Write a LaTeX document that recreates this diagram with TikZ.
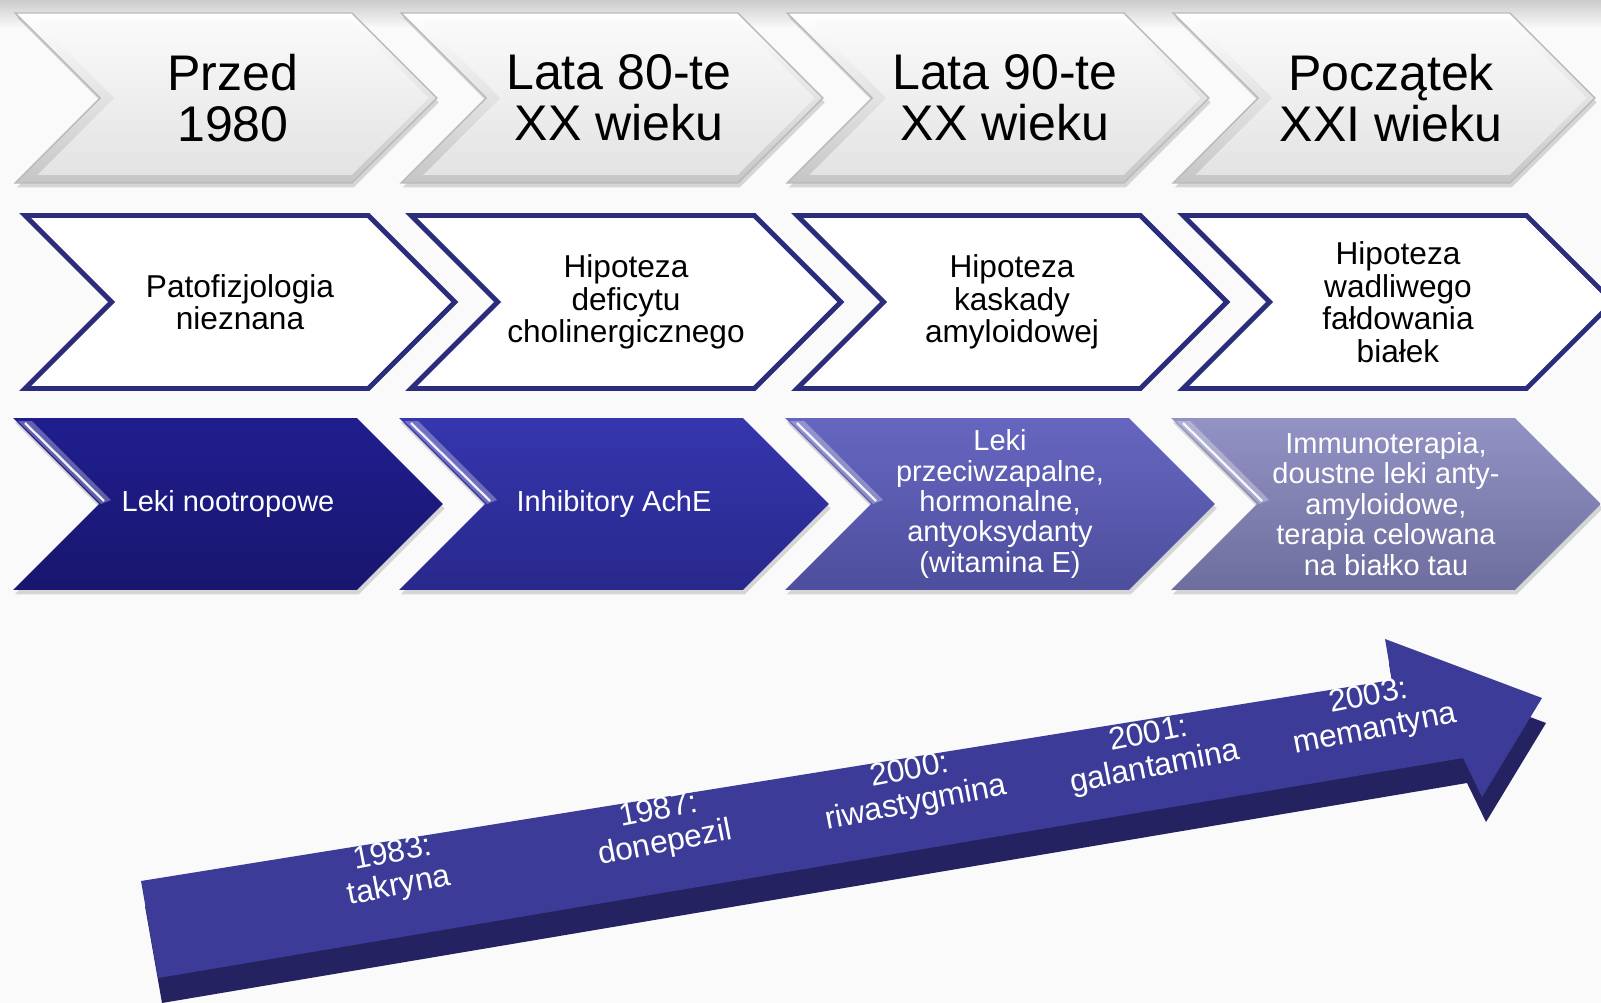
\documentclass[tikz,border=0pt]{standalone}
\usepackage{fontspec}
\setmainfont{Liberation Sans}
\usetikzlibrary{shapes.symbols,shadows}

\definecolor{navy}{RGB}{44,44,125}
\definecolor{lekiAt}{RGB}{32,30,142}
\definecolor{lekiAb}{RGB}{24,22,110}
\definecolor{lekiBt}{RGB}{54,54,174}
\definecolor{lekiBb}{RGB}{40,40,140}
\definecolor{lekiCt}{RGB}{102,102,192}
\definecolor{lekiCb}{RGB}{78,78,158}
\definecolor{lekiDt}{RGB}{146,146,196}
\definecolor{lekiDb}{RGB}{110,110,158}
\definecolor{osTop}{RGB}{60,60,152}
\definecolor{osBok}{RGB}{36,34,96}

\begin{document}
\begin{tikzpicture}[x=0.02cm, y=-0.02cm,
		chev/.style={signal, signal from=west, signal to=east, signal pointer angle=90, inner sep=0pt, outer sep=0pt, align=center},
		okres/.style={chev, minimum width=8.44cm, minimum height=3.4cm, draw=gray!55, thick, top color=white, bottom color=gray!45, drop shadow={opacity=0.3, shadow xshift=1pt, shadow yshift=-2.5pt}},
		okresf/.style={chev, minimum width=7.83cm, minimum height=3.08cm, top color=gray!4, bottom color=gray!22, font=\fontsize{28.5}{29}\selectfont},
		hip/.style={chev, minimum width=8.6cm, minimum height=3.46cm, draw=navy, line width=2.8pt, fill=white, font=\fontsize{18}{18.5}\selectfont},
		lek/.style={chev, minimum width=8.6cm, minimum height=3.44cm, text=white, drop shadow={opacity=0.3, shadow xshift=1pt, shadow yshift=-2.5pt}, font=\fontsize{16.5}{17.3}\selectfont},
		rok/.style={text=white, align=center, rotate=11, inner sep=0pt, font=\fontsize{18}{19}\selectfont},
		]
	\useasboundingbox (0,0) rectangle (1601,1003);
	
	%Background
	\fill[gray!4] (0,0) rectangle (1601,1003);
	\shade[top color=gray!40, bottom color=gray!4] (0,0) rectangle (1601,28);
	
	%Periods
	\node[okres]	(p1b)	at (226,98)		{};
	\node[okresf]	(p1)	at (233,98)		{Przed\\1980};
	\node[okres]	(p2b)	at (612,98)		{};
	\node[okresf]	(p2)	at (619,98)		{Lata 80-te\\XX wieku};
	\node[okres]	(p3b)	at (998,98)		{};
	\node[okresf]	(p3)	at (1005,98)	{Lata 90-te\\XX wieku};
	\node[okres]	(p4b)	at (1384,98)	{};
	\node[okresf]	(p4)	at (1391,98)	{Początek\\XXI wieku};
	
	%Hypotheses
	\node[hip]	(h1)	at (240,302)	{Patofizjologia\\nieznana};
	\node[hip]	(h2)	at (626,302)	{Hipoteza\\deficytu\\cholinergicznego};
	\node[hip]	(h3)	at (1012,302)	{Hipoteza\\kaskady\\amyloidowej};
	\node[hip]	(h4)	at (1398,302)	{Hipoteza\\wadliwego\\fałdowania\\białek};
	
	%Drugs
	\node[lek, top color=lekiAt, bottom color=lekiAb]	(d1)	at (228,504)	{Leki nootropowe};
	\node[lek, top color=lekiBt, bottom color=lekiBb]	(d2)	at (614,504)	{Inhibitory AchE};
	\node[lek, top color=lekiCt, bottom color=lekiCb]	(d3)	at (1000,504)	{Leki\\przeciwzapalne,\\hormonalne,\\antyoksydanty\\(witamina E)};
	\node[lek, top color=lekiDt, bottom color=lekiDb]	(d4)	at (1386,504)	{Immunoterapia,\\doustne leki anty-\\amyloidowe,\\terapia celowana\\na białko tau};
	\foreach \x in {13,399,785,1171}{
		\fill[white, opacity=.3] (\x+5,421) -- (\x+19,421) -- (\x+98,500) -- (\x+88,504) -- cycle;
		\draw[white, opacity=.9, line width=1.3pt] (\x+12,423) -- (\x+91,501);
	}
	
	%Arrow
	\fill[osBok, shift={(4,25)}] (141,881) -- (1392,680) -- (1385,639) -- (1542,698) -- (1482,797) -- (1463,758) -- (158,978) -- cycle;
	\fill[osTop] (141,881) -- (1392,680) -- (1385,639) -- (1542,698) -- (1482,797) -- (1463,758) -- (158,978) -- cycle;
	
	%Years
	\node[rok]	(y1)	at (396,871)	{1983:\\takryna};
	\node[rok]	(y2)	at (662,828)	{1987:\\donepezil};
	\node[rok]	(y3)	at (913,788)	{2000:\\riwastygmina};
	\node[rok]	(y4)	at (1152,752)	{2001:\\galantamina};
	\node[rok]	(y5)	at (1372,714)	{2003:\\memantyna};
\end{tikzpicture}
\end{document}
